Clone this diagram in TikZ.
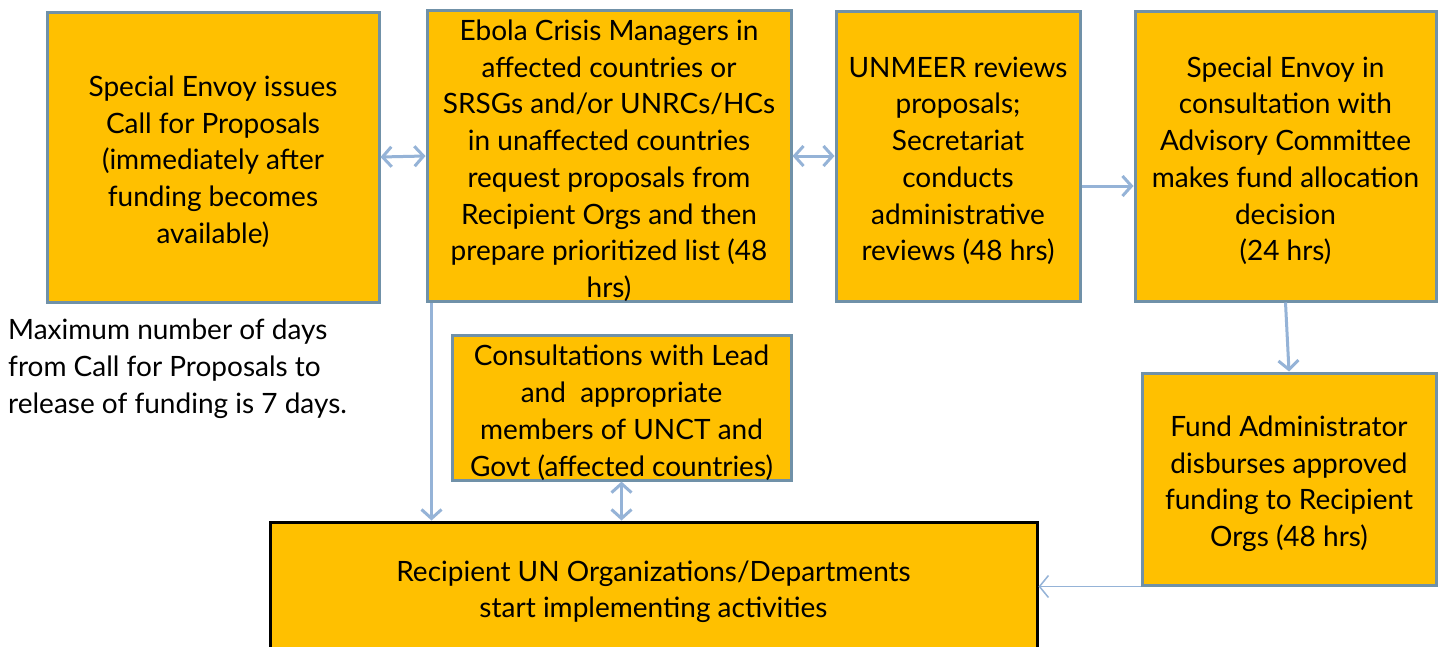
\documentclass[tikz,border=0pt]{standalone}
\usepackage{fontspec}
\setmainfont{Lato}
\usetikzlibrary{arrows.meta,calc}
\definecolor{boxfill}{HTML}{FFC000}
\definecolor{boxline}{HTML}{7091A8}
\definecolor{arr}{HTML}{95B3D7}
\newcommand{\toppad}{\rule{0pt}{30pt}}
\tikzset{
  box/.style={draw=boxline, line width=3pt, fill=boxfill, align=center, inner sep=0pt,
    font=\fontsize{28}{36.7}\selectfont},
  conn/.style={draw=arr, line width=3pt, -{Straight Barb[length=9pt,width=20pt,line width=3pt]}},
  dconn/.style={draw=arr, line width=3pt, {Straight Barb[length=9pt,width=20pt,line width=3pt]}-{Straight Barb[length=9pt,width=20pt,line width=3pt]}},
  thinconn/.style={draw=arr, line width=1.5pt, -{Straight Barb[length=9pt,width=22pt,line width=1.5pt]}},
}
\begin{document}
\begin{tikzpicture}[x=1pt,y=-1pt]
\clip (0,0) rectangle (1444,646);
\fill[white] (0,0) rectangle (1444,646);
\node[box, minimum width=332pt, minimum height=290pt] (b1) at (213,157)
  {\toppad Special Envoy issues\\Call for Proposals\\(immediately after\\funding becomes\\available)};
\node[box, minimum width=364pt, minimum height=290pt] (b2) at (609,156)
  {\toppad Ebola Crisis Managers in\\affected countries or\\SRSGs and/or UNRCs/HCs\\in unaffected countries\\request proposals from\\Recipient Orgs and then\\prepare prioritized list (48\\hrs)};
\node[box, minimum width=244pt, minimum height=290pt] (b3) at (958,156)
  {\toppad UNMEER reviews\\proposals;\\Secretariat\\conducts\\administrative\\reviews (48 hrs)};
\node[box, minimum width=301pt, minimum height=290pt] (b4) at (1285.5,156)
  {\toppad Special Envoy in\\consultation with\\Advisory Committee\\makes fund allocation\\decision\\(24 hrs)};
\node[box, minimum width=339pt, minimum height=142pt] (b5) at (621.5,408)
  {\toppad Consultations with Lead\\and~ appropriate\\members of UNCT and\\Govt (affected countries)};
\node[box, minimum width=294pt, minimum height=212pt] (b6) at (1289,479)
  {\toppad Fund Administrator\\disburses approved\\funding to Recipient\\Orgs (48 hrs)};
\node[box, draw=black, minimum width=767pt, minimum height=130pt] (b7) at (653.5,587)
  {\toppad Recipient UN Organizations/Departments\\start implementing activities};
\node[anchor=north west, align=left, inner sep=0pt, font=\fontsize{28}{36.7}\selectfont] (note) at (8,319)
  {Maximum number of days\\from Call for Proposals to\\release of funding is 7 days.};
\draw[dconn] (b1.east) -- (b2.west);
\draw[dconn] (b2.east) -- (b3.west);
\draw[conn] ($(b3.east)+(0,30)$) -- ($(b4.west)+(0,30)$);
\draw[conn] (b4.south) -- (b6.north);
\draw[conn] ($(b2.south west)+(6,0)$) coordinate (s2) -- (s2 |- b7.north);
\draw[dconn] (b5.south) -- (b5.south |- b7.north);
\draw[thinconn] (b6.south west) -- (b6.south west -| b7.east);
\end{tikzpicture}
\end{document}
